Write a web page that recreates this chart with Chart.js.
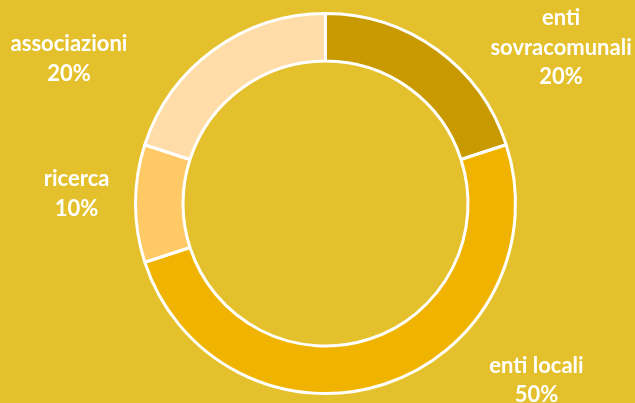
<!DOCTYPE html>
<html>
<head>
<meta charset="utf-8">
<script src="https://cdn.jsdelivr.net/npm/chart.js@4/dist/chart.umd.min.js"></script>
<style>
    html, body { margin: 0; padding: 0; background: #E4C12C; }
    #wrap { width: 635px; height: 403px; position: relative; }
</style>
</head>
<body>
<div id="wrap"><canvas id="donut"></canvas></div>
<script>
// ===== DATA =====
const categories = ["enti sovracomunali", "enti locali", "ricerca", "associazioni"];
const labelLines = [["enti", "sovracomunali"], ["enti locali"], ["ricerca"], ["associazioni"]];
const shares = [20, 50, 10, 20];
const sliceColors = ["#C89A00", "#F0B400", "#FFC966", "#FFDCA8"];

// label anchors, offset from centre in units of outer radius
const labelAnchor = [[1.24, -0.82], [1.11, 0.93], [-1.31, -0.05], [-1.35, -0.76]];

// ===== LABEL PLUGIN =====
const outsideLabels = {
    id: "outsideLabels",
    afterDraw(chart) {
        const ctx = chart.ctx;
        const arcs = chart.getDatasetMeta(0).data;
        if (!arcs.length) return;
        const cx = arcs[0].x, cy = arcs[0].y, r = arcs[0].outerRadius;
        const lh = 29.5;
        ctx.save();
        ctx.fillStyle = "#ffffff";
        ctx.font = "bold 22px Lato, 'Open Sans', sans-serif";
        ctx.textAlign = "center";
        ctx.textBaseline = "middle";
        shares.forEach((v, i) => {
            const lines = labelLines[i].concat([v + "%"]);
            const x = cx + labelAnchor[i][0] * r;
            const y0 = cy + labelAnchor[i][1] * r - (lines.length - 1) * lh / 2;
            lines.forEach((t, k) => ctx.fillText(t, x, y0 + k * lh));
        });
        ctx.restore();
    }
};

// ===== CHART =====
new Chart(document.getElementById("donut"), {
    type: "doughnut",
    data: {
        labels: categories,
        datasets: [{
            data: shares,
            backgroundColor: sliceColors,
            borderColor: "#ffffff",
            borderWidth: 3
        }]
    },
    options: {
        responsive: true,
        maintainAspectRatio: false,
        animation: false,
        cutout: "75%",
        layout: { padding: { top: 12, bottom: 8, left: 16, right: 0 } },
        plugins: {
            legend: { display: false },
            tooltip: { enabled: false }
        }
    },
    plugins: [outsideLabels]
});
</script>
</body>
</html>
